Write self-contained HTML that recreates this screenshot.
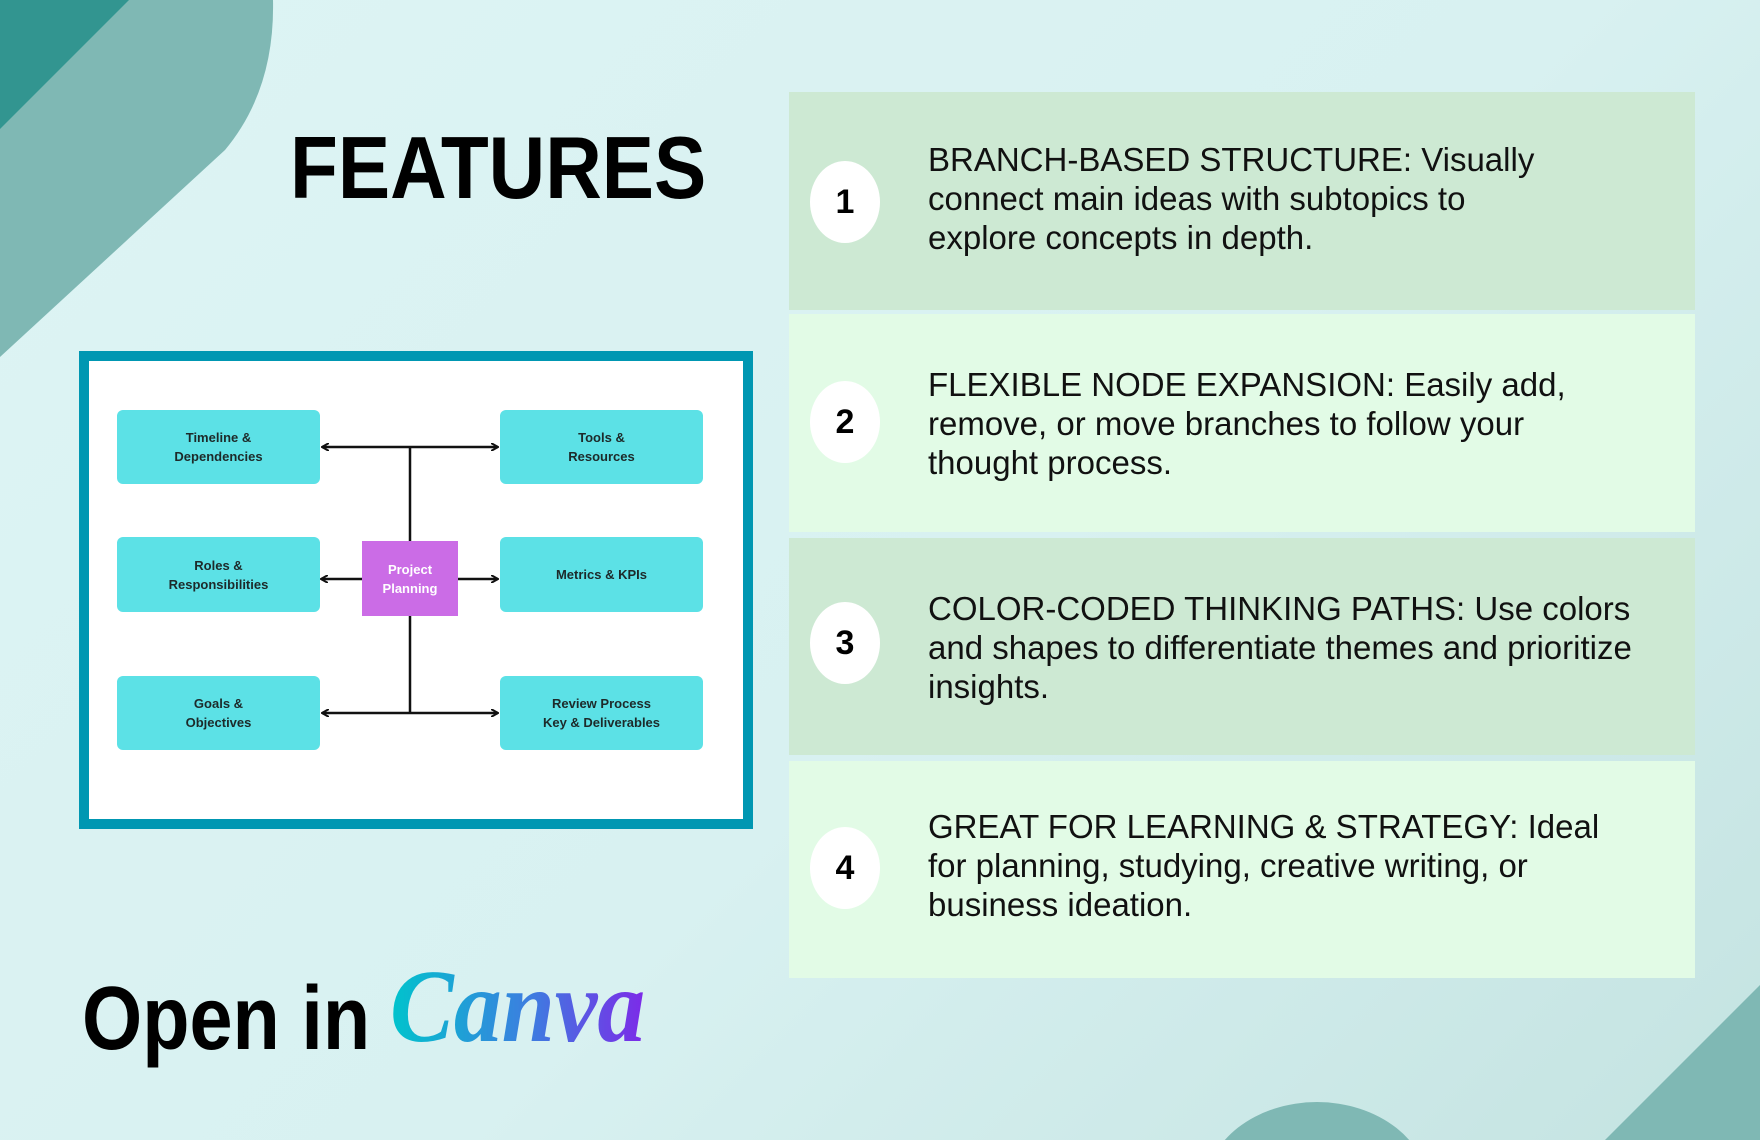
<!DOCTYPE html>
<html><head><meta charset="utf-8"><style>
*{margin:0;padding:0;box-sizing:border-box}
html{width:1760px;height:1140px;overflow:hidden}
body{width:1760px;height:1140px;position:relative;overflow:hidden;background:linear-gradient(135deg,#ddf4f4 0%,#d8f1f1 55%,#c4e3e1 100%);font-family:"Liberation Sans",sans-serif}
.abs{position:absolute}
.panel{position:absolute;left:789px;width:906px}
.circ{position:absolute;left:810px;width:70px;height:82px;border-radius:50%;background:#fff;font:bold 34px "Liberation Sans",sans-serif;text-align:center;line-height:82px;color:#000}
.txt{position:absolute;left:928px;font-family:"Liberation Sans Narrow","Liberation Sans",sans-serif;font-size:33px;line-height:39px;color:#111;white-space:nowrap;transform-origin:0 0}
.node{position:absolute;background:#5ce1e6;border-radius:6px;display:flex;align-items:center;justify-content:center;text-align:center;font:bold 13px/19px "Liberation Sans",sans-serif;color:#1d2a2a}
</style></head><body>
<svg class="abs" style="left:0;top:0" width="1760" height="1140">
<path d="M0 0 L273 0 Q275 90 225 150 L0 357 Z" fill="#7fb8b4"/>
<path d="M0 0 L129 0 L0 129 Z" fill="#329590"/>
<path d="M1760 985 L1760 1140 L1605 1140 Z" fill="#7fb8b4"/>
<ellipse cx="1317" cy="1190" rx="112" ry="88" fill="#7fb8b4"/>
</svg>
<div class="abs" style="left:290px;top:124px;font:bold 88px/1 'Liberation Sans',sans-serif;color:#000;transform:scaleX(0.89);transform-origin:0 0">FEATURES</div>

<div class="panel" style="top:92px;height:218px;background:#cde9d3"></div>
<div class="panel" style="top:314px;height:218px;background:#e2fbe6"></div>
<div class="panel" style="top:538px;height:217px;background:#cde9d3"></div>
<div class="panel" style="top:761px;height:217px;background:#e2fbe6"></div>
<div class="circ" style="top:161px">1</div>
<div class="circ" style="top:381px">2</div>
<div class="circ" style="top:602px">3</div>
<div class="circ" style="top:827px">4</div>
<div class="txt" style="top:140px">BRANCH-BASED STRUCTURE: Visually<br>connect main ideas with subtopics to<br>explore concepts in depth.</div>
<div class="txt" style="top:365px">FLEXIBLE NODE EXPANSION: Easily add,<br>remove, or move branches to follow your<br>thought process.</div>
<div class="txt" style="top:589px">COLOR-CODED THINKING PATHS: Use colors<br>and shapes to differentiate themes and prioritize<br>insights.</div>
<div class="txt" style="top:807px">GREAT FOR LEARNING &amp; STRATEGY: Ideal<br>for planning, studying, creative writing, or<br>business ideation.</div>

<div class="abs" style="left:79px;top:351px;width:674px;height:478px;border:10px solid #0097b2;background:#fff"></div>
<svg class="abs" style="left:0;top:0" width="760" height="840">
<defs><marker id="a" markerWidth="8" markerHeight="8" refX="7" refY="4" orient="auto" markerUnits="userSpaceOnUse"><path d="M0 0 L7 4 L0 8" fill="none" stroke="#111" stroke-width="2"/></marker></defs>
<g stroke="#111" stroke-width="2.5" fill="none">
<line x1="410" y1="447" x2="410" y2="713"/>
<line x1="410" y1="447" x2="322" y2="447" marker-end="url(#a)"/>
<line x1="410" y1="447" x2="498" y2="447" marker-end="url(#a)"/>
<line x1="410" y1="713" x2="322" y2="713" marker-end="url(#a)"/>
<line x1="410" y1="713" x2="498" y2="713" marker-end="url(#a)"/>
<line x1="362" y1="579" x2="321" y2="579" marker-end="url(#a)"/>
<line x1="458" y1="579" x2="498" y2="579" marker-end="url(#a)"/>
</g></svg>
<div class="node" style="left:117px;top:410px;width:203px;height:74px">Timeline &amp;<br>Dependencies</div>
<div class="node" style="left:500px;top:410px;width:203px;height:74px">Tools &amp;<br>Resources</div>
<div class="node" style="left:117px;top:537px;width:203px;height:75px">Roles &amp;<br>Responsibilities</div>
<div class="node" style="left:500px;top:537px;width:203px;height:75px">Metrics &amp; KPIs</div>
<div class="node" style="left:117px;top:676px;width:203px;height:74px">Goals &amp;<br>Objectives</div>
<div class="node" style="left:500px;top:676px;width:203px;height:74px">Review Process<br>Key &amp; Deliverables</div>
<div class="node" style="left:362px;top:541px;width:96px;height:75px;background:#cb6ce6;border-radius:0;color:#fff">Project<br>Planning</div>

<div class="abs" style="left:82px;top:974px;font:bold 90px/1 'Liberation Sans',sans-serif;color:#000;transform:scaleX(0.86);transform-origin:0 0;white-space:nowrap">Open in</div>
<div class="abs" style="left:390px;top:955px;font:italic bold 104px/1 'Liberation Serif',serif;background:linear-gradient(90deg,#00c4cc,#3d7de0 55%,#7d2ae8);-webkit-background-clip:text;background-clip:text;color:transparent;white-space:nowrap;transform:scaleX(0.92);transform-origin:0 0">Canva</div>
</body></html>
